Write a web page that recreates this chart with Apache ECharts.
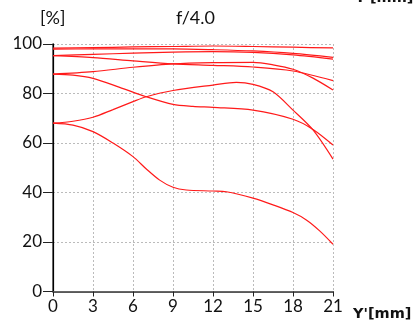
<!DOCTYPE html>
<html><head><meta charset="utf-8">
<script src="https://cdn.jsdelivr.net/npm/echarts@6/dist/echarts.min.js"></script>
<style>html,body{margin:0;padding:0;background:#fff}#c{width:417px;height:326px}</style>
</head><body><div id="c"></div>
<script>
const xTicks = [0,3,6,9,12,15,18,21];
const yTicks = [0,20,40,60,80,100];
const titleText = 'f/4.0';
const yUnit = '[%]';
const xName = "Y'[mm]";

const x1 = [0,3,6,9,12,15,18,21];
const y1 = [98.3, 98.5, 98.8, 99.0, 99.2, 99.0, 98.7, 98.4];
const x2 = [0,3,6,9,12,15,18,21];
const y2 = [97.9, 98.0, 98.0, 98.0, 97.7, 97.2, 96.2, 94.6];
const x3 = [0,3,6,9,12,15,18,21];
const y3 = [95.3, 95.8, 96.3, 96.7, 96.9, 96.6, 95.6, 93.9];
const x4 = [0,3,6,9,12,15,18,21];
const y4 = [95.3, 94.5, 93.2, 92.0, 91.4, 90.7, 89.1, 85.2];
const x5 = [0,3,6,9,12,15,16.5,18,19.5,21];
const y5 = [87.8, 88.8, 90.6, 92.0, 92.5, 92.6, 91.6, 89.8, 86.2, 81.4];
const x6 = [0,1.5,3,5,7,9,10.5,12,15,18,19.5,21];
const y6 = [87.8, 87.4, 86.1, 82.5, 78.7, 75.6, 74.8, 74.4, 73.3, 69.6, 65.5, 59.2];
const x7 = [0,1.5,3,4.5,6,7,9,12,13.75,15,16.5,18,19.5,21];
const y7 = [68, 68.8, 70.4, 73.5, 76.7, 78.7, 81.2, 83.4, 84.5, 83.7, 80.7, 73.3, 65.3, 53.5];
const x8 = [0,1.5,3,4.5,6,7,8,9,10,12,13,15,16.5,18,19,20,21];
const y8 = [68, 67.2, 64.6, 60.0, 54.5, 49.5, 45, 42.1, 41, 40.6, 40.3, 37.7, 35, 31.9, 28.9, 24.5, 19.1];

const curves = [[x1,y1],[x2,y2],[x3,y3],[x4,y4],[x5,y5],[x6,y6],[x7,y7],[x8,y8]];

const FONT = 'Lato';
const BOLD = '"DejaVu Sans"';
const chart = echarts.init(document.getElementById('c'));
chart.setOption({
  animation: false,
  grid: {left: 53, right: 84, top: 44, bottom: 34.5, containLabel: false},
  xAxis: [{
    type: 'value', min: 0, max: 21, interval: 3,
    axisLine: {show: true, onZero: false, lineStyle: {color: '#222', width: 1.5}},
    axisTick: {show: true, length: 5, lineStyle: {color: '#222'}},
    axisLabel: {color: '#111', fontSize: 17, fontFamily: FONT, margin: 7,
      formatter: v => xTicks.includes(v) ? String(v) : ''},
    splitLine: {show: true, lineStyle: {color: '#bbb', type: [2,2], width: 1}}
  },{
    type: 'value', min: 0, max: 21, position: 'top',
    axisLine: {show: true, lineStyle: {color: '#666', width: 1}},
    axisTick: {show: false}, axisLabel: {show: false}, splitLine: {show: false}
  }],
  yAxis: [{
    type: 'value', min: 0, max: 100, interval: 20,
    axisLine: {show: true, lineStyle: {color: '#444', width: 1.5}},
    axisTick: {show: true, length: 10, lineStyle: {color: '#222'}},
    axisLabel: {color: '#111', fontSize: 17, fontFamily: FONT, margin: 11,
      formatter: v => yTicks.includes(v) ? String(v) : ''},
    splitLine: {show: true, lineStyle: {color: '#bbb', type: [2,2], width: 1}}
  },{
    type: 'value', min: 0, max: 100, position: 'right',
    axisLine: {show: true, lineStyle: {color: '#000', width: 1.2}},
    axisTick: {show: false}, axisLabel: {show: false}, splitLine: {show: false}
  }],
  graphic: [
    {type: 'text', left: 176, top: 9, style: {text: titleText, font: '18px ' + FONT, fill: '#111'}},
    {type: 'text', left: 40, top: 9, style: {text: yUnit, font: '18px ' + FONT, fill: '#111'}},
    {type: 'text', left: 353, top: 307, style: {text: xName, font: 'bold 14.5px ' + BOLD, fill: '#111'}},
    {type: 'text', left: 355, top: -9, style: {text: xName, font: 'bold 14.5px ' + BOLD, fill: '#111'}}
  ],
  series: curves.map(([xs, ys]) => ({
    type: 'line', xAxisIndex: 0, yAxisIndex: 0,
    data: xs.map((x, i) => [x, ys[i]]),
    showSymbol: false, symbol: 'none', smooth: 0.3,
    lineStyle: {color: '#ff1a1a', width: 1.2},
    silent: true
  }))
});
</script></body></html>
